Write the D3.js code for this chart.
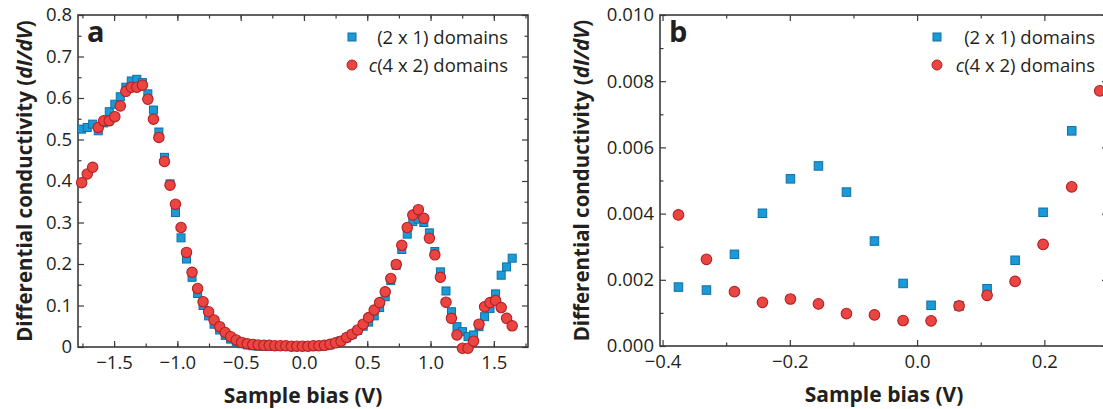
<!DOCTYPE html>
<html>
<head>
<meta charset="utf-8">
<script src="https://cdn.jsdelivr.net/npm/d3@7"></script>
<style>
body { margin: 0; background: #fff; }
text { font-family: 'Open Sans', sans-serif; fill: #231f20; }
</style>
</head>
<body>
<svg id="chart" width="1103" height="409"></svg>
<script>
// panel a: full bias range
var biasA = [-1.756, -1.712, -1.669, -1.625, -1.582, -1.538, -1.494, -1.451, -1.407, -1.364,
	-1.320, -1.276, -1.233, -1.189, -1.146, -1.102, -1.058, -1.015, -0.971, -0.928,
	-0.884, -0.840, -0.797, -0.753, -0.710, -0.666, -0.622, -0.579, -0.535, -0.492,
	-0.448, -0.404, -0.361, -0.317, -0.274, -0.230, -0.186, -0.143, -0.099, -0.056,
	-0.012, 0.032, 0.075, 0.119, 0.162, 0.206, 0.250, 0.293, 0.337, 0.380,
	0.424, 0.468, 0.511, 0.555, 0.598, 0.642, 0.686, 0.729, 0.773, 0.816,
	0.860, 0.904, 0.947, 0.991, 1.034, 1.078, 1.122, 1.165, 1.209, 1.252,
	1.296, 1.340, 1.383, 1.427, 1.470, 1.514, 1.558, 1.601, 1.645];
var cond2x1A = [0.525, 0.529, 0.537, 0.521, 0.540, 0.567, 0.585, 0.603, 0.626, 0.641,
	0.645, 0.637, 0.610, 0.571, 0.518, 0.457, 0.393, 0.324, 0.263, 0.212,
	0.168, 0.129, 0.100, 0.075, 0.055, 0.041, 0.028, 0.019, 0.012, 0.008,
	0.005, 0.003, 0.002, 0.002, 0.002, 0.002, 0.002, 0.002, 0.001, 0.001,
	0.001, 0.001, 0.001, 0.002, 0.003, 0.005, 0.009, 0.015, 0.022, 0.030,
	0.040, 0.050, 0.060, 0.075, 0.095, 0.121, 0.160, 0.197, 0.235, 0.272,
	0.302, 0.308, 0.300, 0.275, 0.230, 0.181, 0.135, 0.085, 0.049, 0.037,
	0.025, 0.029, 0.049, 0.073, 0.093, 0.128, 0.173, 0.193, 0.214];
var condC4x2A = [0.396, 0.417, 0.433, 0.529, 0.545, 0.545, 0.555, 0.581, 0.616, 0.626,
	0.626, 0.631, 0.597, 0.549, 0.505, 0.447, 0.390, 0.344, 0.288, 0.228,
	0.180, 0.141, 0.109, 0.085, 0.065, 0.049, 0.035, 0.025, 0.017, 0.011,
	0.008, 0.006, 0.005, 0.004, 0.004, 0.003, 0.003, 0.003, 0.002, 0.002,
	0.002, 0.002, 0.003, 0.003, 0.004, 0.0065, 0.010, 0.014, 0.023, 0.031,
	0.041, 0.055, 0.071, 0.089, 0.107, 0.133, 0.165, 0.199, 0.245, 0.288,
	0.318, 0.331, 0.310, 0.262, 0.222, 0.168, 0.108, 0.069, 0.029, -0.003,
	-0.003, 0.014, 0.055, 0.097, 0.107, 0.112, 0.095, 0.069, 0.051];

// panel b: zoom around zero bias
var biasB = [-0.375, -0.331, -0.287, -0.243, -0.199, -0.155, -0.111, -0.067,
	-0.022, 0.022, 0.066, 0.110, 0.154, 0.198, 0.243, 0.287];
var cond2x1B = [0.00178, 0.00169, 0.00277, 0.00401, 0.00505, 0.00544, 0.00465, 0.00317,
	0.00189, 0.00123, 0.00121, 0.00173, 0.00259, 0.00404, 0.00650, null];
var condC4x2B = [0.00396, 0.00262, 0.00164, 0.00132, 0.00142, 0.00127, 0.00098, 0.00094,
	0.00077, 0.00076, 0.00121, 0.00153, 0.00195, 0.00307, 0.00481, 0.00771];

var ticksA_x = [-1.5, -1.0, -0.5, 0.0, 0.5, 1.0, 1.5];
var ticksA_y = [0, 0.1, 0.2, 0.3, 0.4, 0.5, 0.6, 0.7, 0.8];
var ticksB_x = [-0.4, -0.2, 0.0, 0.2];
var ticksB_y = [0.000, 0.002, 0.004, 0.006, 0.008, 0.010];

var seriesNames = ['(2 x 1) domains', 'c(4 x 2) domains'];
var xLabel = 'Sample bias (V)';

var svg = d3.select('#chart');

var blueFill = '#1a9bd8', blueStroke = '#0e6fa6';
var redFill = '#eb4542', redStroke = '#b41f22';
var axisColor = '#3a3a3a';

function pairs(xs, ys) {
	return xs.map(function(v, i) { return [v, ys[i]]; })
		.filter(function(d) { return d[1] !== null; });
}

function drawPanel(o) {
	var g = svg.append('g').attr('class', 'panel-' + o.name);
	var x = d3.scaleLinear().domain(o.xDomain).range([o.left, o.right]);
	var y = d3.scaleLinear().domain(o.yDomain).range([o.bottom, o.top]);

	// minor ticks first, on all four sides, pointing in
	var minorX = d3.range(o.xMinor[0], o.xMinor[1] + 1e-9, o.xMinor[2]);
	var minorY = d3.range(o.yMinor[0], o.yMinor[1] + 1e-9, o.yMinor[2]);

	function clean(a) {
		a.select('.domain').remove();
		a.selectAll('line').attr('stroke', axisColor).attr('stroke-width', 1.2);
	}

	g.append('g').attr('transform', 'translate(0,' + o.bottom + ')')
		.call(d3.axisBottom(x).tickValues(minorX).tickSize(-3.5).tickFormat(''))
		.call(clean);
	g.append('g').attr('transform', 'translate(0,' + o.top + ')')
		.call(d3.axisTop(x).tickValues(minorX).tickSize(-3.5).tickFormat(''))
		.call(clean);
	g.append('g').attr('transform', 'translate(' + o.left + ',0)')
		.call(d3.axisLeft(y).tickValues(minorY).tickSize(-3.5).tickFormat(''))
		.call(clean);
	g.append('g').attr('transform', 'translate(' + o.right + ',0)')
		.call(d3.axisRight(y).tickValues(minorY).tickSize(-3.5).tickFormat(''))
		.call(clean);

	// major ticks, labelled bottom + left
	g.append('g').attr('transform', 'translate(0,' + o.bottom + ')')
		.call(d3.axisBottom(x).tickValues(o.xTicks).tickSize(-6).tickPadding(9).tickFormat(o.xFormat))
		.call(clean);
	g.append('g').attr('transform', 'translate(0,' + o.top + ')')
		.call(d3.axisTop(x).tickValues(o.xTicks).tickSize(-6).tickFormat(''))
		.call(clean);
	g.append('g').attr('transform', 'translate(' + o.left + ',0)')
		.call(d3.axisLeft(y).tickValues(o.yTicks).tickSize(-6).tickPadding(6).tickFormat(o.yFormat))
		.call(clean);
	g.append('g').attr('transform', 'translate(' + o.right + ',0)')
		.call(d3.axisRight(y).tickValues(o.yTicks).tickSize(-6).tickFormat(''))
		.call(clean);

	g.selectAll('.tick text')
		.attr('font-size', 18.5)
		.attr('font-family', "'Open Sans', sans-serif")
		.attr('fill', '#231f20');

	// frame
	g.append('rect')
		.attr('x', o.left)
		.attr('y', o.top)
		.attr('width', o.right - o.left)
		.attr('height', o.bottom - o.top)
		.attr('fill', 'none')
		.attr('stroke', axisColor)
		.attr('stroke-width', 1.6);

	// markers: squares under circles
	var sq = o.square;
	g.append('g').selectAll('rect')
		.data(pairs(o.bias, o.s1))
		.enter().append('rect')
			.attr('x', function(d) { return x(d[0]) - sq / 2; })
			.attr('y', function(d) { return y(d[1]) - sq / 2; })
			.attr('width', sq)
			.attr('height', sq)
			.attr('fill', blueFill)
			.attr('stroke', blueStroke)
			.attr('stroke-width', 1);
	g.append('g').selectAll('circle')
		.data(pairs(o.bias, o.s2))
		.enter().append('circle')
			.attr('cx', function(d) { return x(d[0]); })
			.attr('cy', function(d) { return y(d[1]); })
			.attr('r', o.radius)
			.attr('fill', redFill)
			.attr('stroke', redStroke)
			.attr('stroke-width', 1.1);

	// panel letter
	g.append('text')
		.attr('x', o.left + 9)
		.attr('y', o.top + 27)
		.attr('font-size', 29)
		.attr('font-weight', 700)
		.text(o.name);

	// legend, right aligned
	var lg = g.append('g');
	lg.append('rect')
		.attr('x', o.legendMark - 4)
		.attr('y', o.top + 22 - 4)
		.attr('width', 8)
		.attr('height', 8)
		.attr('fill', blueFill)
		.attr('stroke', blueStroke);
	lg.append('text')
		.attr('x', o.legendEnd)
		.attr('y', o.top + 28.5)
		.attr('text-anchor', 'end')
		.attr('font-size', 18.5)
		.text(seriesNames[0]);
	lg.append('circle')
		.attr('cx', o.legendMark)
		.attr('cy', o.top + 50)
		.attr('r', 5)
		.attr('fill', redFill)
		.attr('stroke', redStroke);
	var t2 = lg.append('text')
		.attr('x', o.legendEnd)
		.attr('y', o.top + 56.5)
		.attr('text-anchor', 'end')
		.attr('font-size', 18.5);
	t2.append('tspan').attr('font-style', 'italic').text(seriesNames[1].slice(0, 1));
	t2.append('tspan').text(seriesNames[1].slice(1));

	// axis titles
	g.append('text')
		.attr('x', (o.left + o.right) / 2)
		.attr('y', o.bottom + 56)
		.attr('text-anchor', 'middle')
		.attr('font-size', 21)
		.attr('font-weight', 700)
		.text(xLabel);

	var yl = g.append('text')
		.attr('transform', 'translate(' + o.yTitleX + ',' + ((o.top + o.bottom) / 2) + ') rotate(-90)')
		.attr('text-anchor', 'middle')
		.attr('font-size', 20.5)
		.attr('font-weight', 700);
	yl.append('tspan').text('Differential conductivity (');
	yl.append('tspan').attr('font-style', 'italic').text('dI/dV');
	yl.append('tspan').text(')');
}

drawPanel({
	name: 'a',
	left: 78, right: 528, top: 15, bottom: 347,
	xDomain: [-1.785, 1.77], yDomain: [0, 0.8],
	xTicks: ticksA_x, yTicks: ticksA_y,
	xMinor: [-1.75, 1.75, 0.25], yMinor: [0.05, 0.75, 0.1],
	xFormat: d3.format('.1f'),
	yFormat: function(d) { return d === 0 ? '0' : d3.format('.1f')(d); },
	bias: biasA, s1: cond2x1A, s2: condC4x2A,
	square: 8, radius: 5.2,
	legendMark: 352, legendEnd: 508,
	yTitleX: 32
});

drawPanel({
	name: 'b',
	left: 660, right: 1108, top: 15, bottom: 346,
	xDomain: [-0.404, 0.3], yDomain: [0, 0.010],
	xTicks: ticksB_x, yTicks: ticksB_y,
	xMinor: [-0.3, 0.3, 0.2], yMinor: [0.001, 0.009, 0.002],
	xFormat: d3.format('.1f'),
	yFormat: d3.format('.3f'),
	bias: biasB, s1: cond2x1B, s2: condC4x2B,
	square: 8.5, radius: 5.3,
	legendMark: 937, legendEnd: 1095,
	yTitleX: 589
});
</script>
</body>
</html>
